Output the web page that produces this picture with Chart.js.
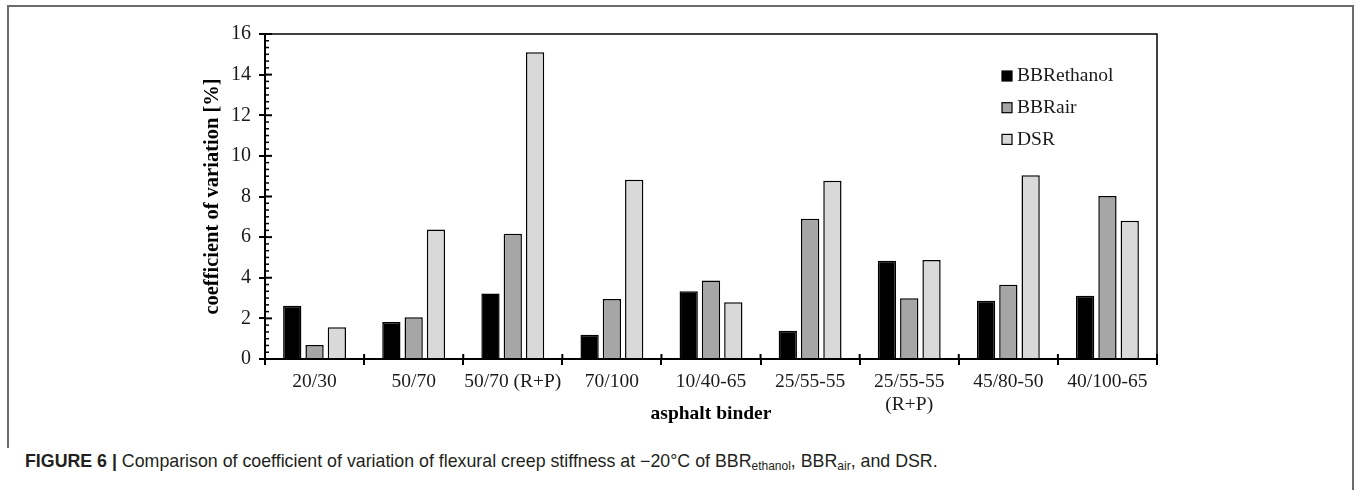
<!DOCTYPE html>
<html>
<head>
<meta charset="utf-8">
<script src="https://cdn.jsdelivr.net/npm/chart.js@4.4.1/dist/chart.umd.min.js"></script>
<style>
  html, body { margin: 0; padding: 0; background: #fff; width: 1356px; height: 490px; overflow: hidden; }
  #wrap { position: absolute; left: 0; top: 0; width: 1356px; height: 440px; }
  .ln { position: absolute; background: #6b6b6b; }
  #cap { position: absolute; left: 25px; top: 451px; font-family: "Liberation Sans", Arial, sans-serif; font-size: 17.8px; color: #231f20; white-space: nowrap; }
  #cap b { font-weight: bold; }
  #cap sub { font-size: 12px; vertical-align: -3px; }
</style>
</head>
<body>
<div class="ln" style="left:8px; top:5px; width:1346px; height:2px;"></div>
<div class="ln" style="left:7px; top:5px; width:2px; height:443px;"></div>
<div class="ln" style="left:1352px; top:5px; width:2px; height:485px;"></div>
<div id="wrap"><canvas id="c" width="1356" height="440"></canvas></div>
<div id="cap"><b>FIGURE 6 |</b> Comparison of coefficient of variation of flexural creep stiffness at −20°C of BBR<sub>ethanol</sub>, BBR<sub>air</sub>, and DSR.</div>
<script>
const categories = [['20/30'], ['50/70'], ['50/70 (R+P)'], ['70/100'], ['10/40-65'], ['25/55-55'], ['25/55-55', '(R+P)'], ['45/80-50'], ['40/100-65']];
const seriesNames = ['BBRethanol', 'BBRair', 'DSR'];
const bbrEthanol = [2.62, 1.82, 3.23, 1.20, 3.33, 1.39, 4.84, 2.87, 3.12];
const bbrAir = [0.69, 2.05, 6.17, 2.95, 3.86, 6.90, 2.99, 3.66, 8.03];
const dsr = [1.56, 6.37, 15.10, 8.82, 2.79, 8.78, 4.88, 9.05, 6.81];
const yMin = 0, yMax = 16, yStep = 2, minorPerMajor = 6;
const xTitle = 'asphalt binder';
const yTitle = 'coefficient of variation [%]';

const serif = '"Liberation Serif", "Times New Roman", serif';
const fills = ['#000000', '#a6a6a6', '#d9d9d9'];

const decor = {
  id: 'decor',
  afterDraw(chart) {
    const { ctx, chartArea: a, scales: { x, y } } = chart;
    ctx.save();
    ctx.strokeStyle = '#000';
    ctx.lineWidth = 1.5;
    ctx.beginPath();
    ctx.moveTo(a.left, a.top); ctx.lineTo(a.right, a.top); ctx.lineTo(a.right, a.bottom);
    ctx.stroke();
    ctx.lineWidth = 2;
    y.ticks.forEach(t => {
      const py = y.getPixelForValue(t.value);
      ctx.beginPath(); ctx.moveTo(a.left, py); ctx.lineTo(a.left + 7, py); ctx.stroke();
    });
    ctx.lineWidth = 1.5;
    for (let v = yMin; v < yMax; v += yStep) {
      for (let k = 1; k < minorPerMajor; k++) {
        const py = y.getPixelForValue(v + k * yStep / minorPerMajor);
        ctx.beginPath(); ctx.moveTo(a.left, py); ctx.lineTo(a.left + 4, py); ctx.stroke();
      }
    }
    ctx.lineWidth = 2;
    const half = (x.getPixelForValue(1) - x.getPixelForValue(0)) / 2;
    for (let i = 0; i <= categories.length; i++) {
      const px = x.getPixelForValue(0) - half + i * 2 * half;
      ctx.beginPath(); ctx.moveTo(px, a.bottom); ctx.lineTo(px, a.bottom - 5); ctx.stroke();
    }
    const lx = a.left + 737, ly0 = a.top + 42, dy = 31.7;
    ctx.font = '19.5px ' + serif;
    ctx.textBaseline = 'middle';
    ctx.textAlign = 'left';
    chart.data.datasets.forEach((ds, i) => {
      const cy = ly0 + i * dy;
      ctx.fillStyle = ds.backgroundColor;
      ctx.fillRect(lx, cy - 5, 10, 10);
      ctx.lineWidth = 1.2;
      ctx.strokeStyle = '#000';
      ctx.strokeRect(lx, cy - 5, 10, 10);
      ctx.fillStyle = '#1a1a1a';
      ctx.fillText(ds.label, lx + 15, cy);
    });
    ctx.restore();
  }
};

new Chart(document.getElementById('c'), {
  type: 'bar',
  data: {
    labels: categories,
    datasets: [bbrEthanol, bbrAir, dsr].map((d, i) => ({
      label: seriesNames[i],
      data: d,
      backgroundColor: fills[i],
      borderColor: '#000',
      borderWidth: 1.5,
      barPercentage: 0.82,
      categoryPercentage: 0.675
    }))
  },
  options: {
    responsive: false,
    animation: false,
    layout: { padding: { left: 0, top: 34, right: 199, bottom: 0 } },
    plugins: { legend: { display: false }, tooltip: { enabled: false } },
    scales: {
      x: {
        ticks: { font: { family: serif, size: 19.5 }, color: '#1a1a1a', padding: 5, maxRotation: 0, autoSkip: false },
        grid: { display: true, offset: true, drawOnChartArea: false, drawTicks: true, tickLength: 6, color: '#000', lineWidth: 2 },
        border: { display: true, color: '#000', width: 2 },
        title: { display: true, text: xTitle, color: '#000', font: { family: serif, size: 19.5, weight: 'bold' }, padding: { top: 0, bottom: 14 } },
        afterFit(s) { s.height = 81; }
      },
      y: {
        min: yMin, max: yMax,
        ticks: { stepSize: yStep, font: { family: serif, size: 20 }, color: '#1a1a1a', padding: 8 },
        grid: { display: true, drawOnChartArea: false, drawTicks: true, tickLength: 6, color: '#000', lineWidth: 2 },
        border: { display: true, color: '#000', width: 2 },
        title: { display: true, text: yTitle, color: '#000', font: { family: serif, size: 20.5, weight: 'bold' }, padding: { top: 200, bottom: 0 } },
        afterFit(s) { s.width = 265; }
      }
    }
  },
  plugins: [decor]
});
</script>
</body>
</html>
